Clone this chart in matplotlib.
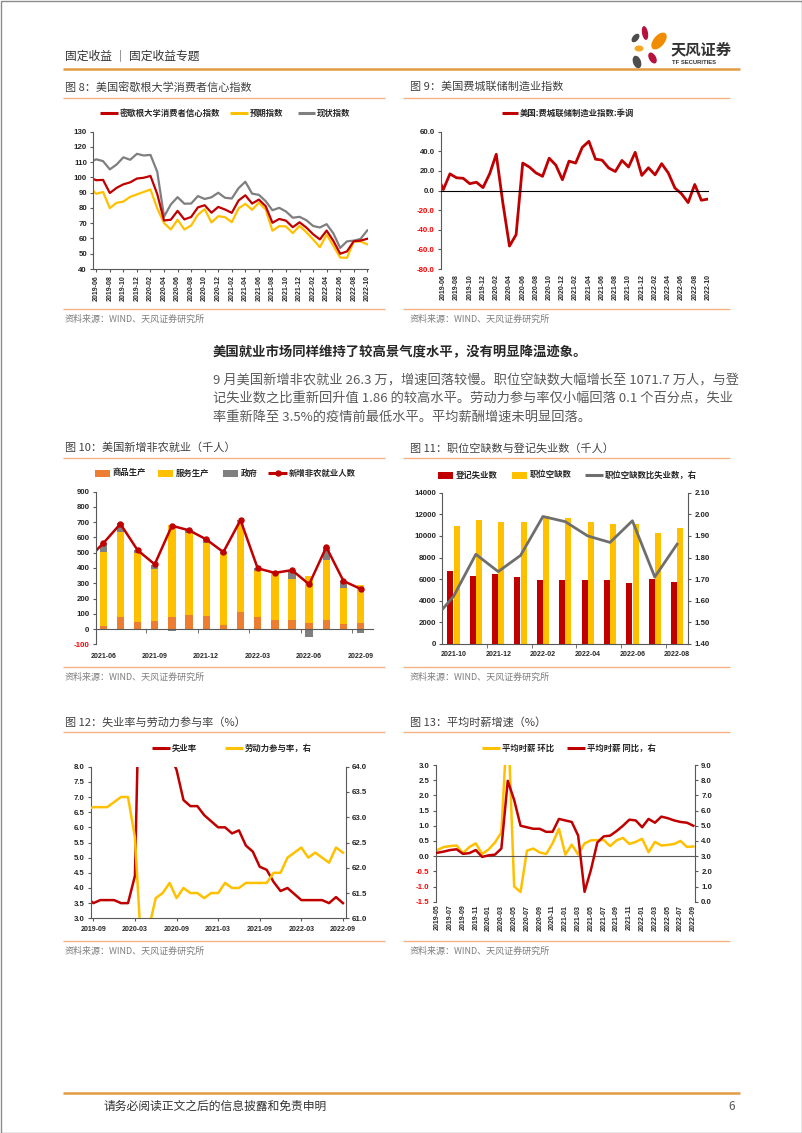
import numpy as np
import pandas as pd
import matplotlib
matplotlib.use('Agg')
import matplotlib.pyplot as plt
from matplotlib.patches import Ellipse, Rectangle

plt.rcParams['font.family'] = ['Noto Sans CJK SC', 'DejaVu Sans']
plt.rcParams['axes.unicode_minus'] = False

# ---------------- data ----------------
# Fig 8: Michigan consumer sentiment (2019-05 .. 2022-10)
m8_months = [str(p) for p in pd.period_range('2019-05', '2022-10', freq='M')]
sent8 = [100.0, 98.2, 98.4, 89.8, 93.2, 95.5, 96.8, 99.3,
         99.8, 101.0, 89.1, 71.8, 72.3, 78.1, 72.5, 74.1, 80.4, 81.8, 76.9, 80.7,
         79.0, 76.8, 84.9, 88.3, 82.9, 85.5, 81.2, 70.3, 72.8, 71.7, 67.4, 70.6,
         67.2, 62.8, 59.4, 65.2, 58.4, 50.0, 51.5, 58.2, 58.6, 59.8]
expect8 = [93.5, 89.3, 90.5, 79.9, 83.4, 84.2, 87.3, 88.9,
           90.5, 92.1, 79.7, 70.1, 65.9, 72.3, 65.9, 68.5, 75.6, 79.2, 70.5, 74.6,
           74.0, 70.7, 79.7, 82.7, 78.8, 83.5, 79.0, 65.1, 68.1, 67.9, 63.5, 68.3,
           64.1, 59.4, 54.3, 62.5, 55.2, 47.5, 47.3, 58.0, 58.0, 56.2]
curr8 = [110.0, 111.9, 110.7, 105.3, 108.5, 113.2, 111.6, 115.5,
         114.4, 114.8, 103.7, 74.3, 82.3, 87.1, 82.8, 82.9, 87.8, 85.9, 87.0, 90.0,
         86.7, 86.2, 93.0, 97.2, 89.4, 88.6, 84.5, 78.5, 80.1, 77.7, 73.6, 74.2,
         72.0, 68.2, 67.2, 69.4, 63.3, 53.8, 58.1, 58.6, 59.7, 65.3]

# Fig 9: Philadelphia Fed manufacturing index, SA (2019-05 .. 2022-10)
m9_months = [str(p) for p in pd.period_range('2019-05', '2022-10', freq='M')]
philly9 = [16.6, 1.0, 17.0, 13.0, 12.5, 7.0, 8.5, 3.0,
           17.0, 37.0, -12.7, -56.6, -45.0, 28.0, 24.0, 18.0, 14.5, 33.0, 26.0, 11.0,
           30.0, 28.0, 44.0, 50.2, 32.0, 31.0, 23.0, 19.4, 30.7, 24.0, 39.0, 15.4,
           23.2, 16.0, 27.4, 18.0, 2.6, -3.3, -12.3, 6.2, -9.9, -8.7]

# Fig 10: nonfarm payrolls (thousand)
m10_line_months = [str(p) for p in pd.period_range('2021-05', '2022-09', freq='M')]
nfp_total = [447, 562, 689, 517, 424, 677, 647, 588, 504, 714, 398, 368, 386, 293, 537, 315, 263]
m10_bar_months = m10_line_months[1:]
goods10 = [23, 80, 45, 51, 82, 95, 88, 28, 112, 82, 62, 58, 42, 60, 33, 42]
services10 = [485, 559, 452, 345, 598, 535, 476, 467, 588, 299, 303, 273, 304, 391, 237, 245]
gov10 = [54, 54, 22, 24, -15, 17, 26, 10, 14, 17, 3, 54, -53, 85, 42, -23]

# Fig 11: job openings vs unemployed (thousand)
m11_months = [str(p) for p in pd.period_range('2021-10', '2022-08', freq='M')]
unemployed11 = [6750, 6290, 6480, 6230, 5920, 5950, 5950, 5900, 5680, 6010, 5710]
openings11 = [10920, 11470, 11260, 11280, 11840, 11680, 11260, 11070, 11100, 10300, 10717]
ratio11_months = ['2021-09'] + m11_months
ratio11 = [1.50, 1.62, 1.815, 1.735, 1.81, 1.99, 1.966, 1.90, 1.87, 1.97, 1.71, 1.862]

# Fig 12: unemployment rate & participation rate (2019-08 .. 2022-09)
m12_months = [str(p) for p in pd.period_range('2019-08', '2022-09', freq='M')]
unemp12 = [3.7, 3.5, 3.6, 3.6, 3.6,
           3.5, 3.5, 4.4, 14.7, 13.2, 11.0, 10.2, 8.4, 7.9, 6.9, 6.7, 6.7,
           6.4, 6.2, 6.0, 6.0, 5.8, 5.9, 5.4, 5.2, 4.7, 4.6, 4.2, 3.9,
           4.0, 3.8, 3.6, 3.6, 3.6, 3.6, 3.5, 3.7, 3.5]
lfpr12 = [63.15, 63.2, 63.2, 63.2, 63.3,
          63.4, 63.4, 62.6, 60.2, 60.8, 61.4, 61.5, 61.7, 61.4, 61.6, 61.5, 61.5,
          61.4, 61.5, 61.5, 61.7, 61.6, 61.6, 61.7, 61.7, 61.7, 61.7, 61.9, 61.9,
          62.2, 62.3, 62.4, 62.2, 62.3, 62.2, 62.1, 62.4, 62.3]

# Fig 13: average hourly earnings (2019-05 .. 2022-09)
m13_months = [str(p) for p in pd.period_range('2019-05', '2022-09', freq='M')]
ahe_mom13 = [0.2, 0.3, 0.33, 0.35, 0.1, 0.3, 0.42, 0.07,
             0.22, 0.45, 0.78, 4.7, -1.0, -1.18, 0.18, 0.25, 0.12, 0.07, 0.42, 0.9,
             0.05, 0.38, 0.05, 0.42, 0.52, 0.53, 0.53, 0.33, 0.52, 0.6, 0.4, 0.47,
             0.57, 0.13, 0.47, 0.35, 0.37, 0.4, 0.5, 0.3, 0.32]
ahe_yoy13 = [3.22, 3.3, 3.4, 3.45, 3.15, 3.2, 3.4, 2.95,
             3.05, 3.1, 3.5, 7.96, 6.7, 5.0, 4.9, 4.8, 4.8, 4.6, 4.6, 5.45,
             5.35, 5.25, 4.35, 0.65, 2.1, 3.9, 4.3, 4.35, 4.65, 5.0, 5.4, 5.35,
             4.9, 5.45, 5.2, 5.6, 5.5, 5.35, 5.25, 5.2, 5.0]

# ---------------- style ----------------
RED = '#C00000'
YEL = '#FFC000'
GRY = '#7F7F7F'
ORG = '#ED7D31'
NEG = '#FF0000'
SP = '#595959'
SEP = '#F4B183'
TICKF = dict(fontfamily=['Liberation Sans', 'DejaVu Sans'], fontweight='bold', color='#262626')

W, H = 802, 1133
fig = plt.figure(figsize=(W / 100, H / 100), dpi=100)


def pax(x0, y0, x1, y1):
    return fig.add_axes([x0 / W, 1 - y1 / H, (x1 - x0) / W, (y1 - y0) / H])


def base(ax, right=False):
    ax.set_facecolor('none')
    ax.spines['top'].set_visible(False)
    ax.spines['right'].set_visible(right)
    ax.spines['left'].set_visible(not right)
    for s in ('left', 'bottom', 'right'):
        ax.spines[s].set_color(SP)
        ax.spines[s].set_linewidth(0.8)
    ax.tick_params(axis='both', color=SP, length=2.5, width=0.8, direction='out', pad=2)


def yt(ax, vals, fmt, size=5.7, neg_red=False):
    ax.set_yticks(vals, labels=[fmt.format(v) for v in vals], fontsize=size, **TICKF)
    if neg_red:
        for lab, v in zip(ax.get_yticklabels(), vals):
            if v < 0:
                lab.set_color(NEG)


# ---- Fig 8 ----
ax8 = pax(93.3, 131.7, 368.3, 269)
base(ax8)
x8 = np.arange(len(m8_months))
ax8.plot(x8, curr8, color=GRY, lw=1.6)
ax8.plot(x8, expect8, color=YEL, lw=1.6)
ax8.plot(x8, sent8, color=RED, lw=1.6)
ax8.set_xlim(0.56, 41.15)
ax8.set_ylim(40, 130)
yt(ax8, list(range(40, 131, 10)), '{:d}')
ax8.set_xticks(x8[1::2], labels=m8_months[1::2], rotation=90, fontsize=5, **TICKF)

# ---- Fig 9 ----
ax9 = pax(441, 131.7, 708.3, 269)
base(ax9)
x9 = np.arange(len(m9_months))
ax9.plot(x9, philly9, color=RED, lw=2)
ax9.set_xlim(0.65, 41.05)
ax9.set_ylim(-80, 60)
ax9.spines['bottom'].set_position(('data', 0))
ax9.spines['bottom'].set_color('#000000')
yt(ax9, list(range(-80, 61, 20)), '{:.1f}', neg_red=True)
ax9.set_xticks(x9[1::2], labels=m9_months[1::2], rotation=90, fontsize=5, **TICKF)
ax9.tick_params(axis='x', length=0, pad=60)

# ---- Fig 10 ----
ax10 = pax(95.7, 491.7, 373.3, 644.3)
base(ax10)
xb = np.arange(1, len(m10_bar_months) + 1)
g = np.array(goods10)
s = np.array(services10)
gv = np.array(gov10)
gov_bottom = np.where(gv >= 0, g + s, 0)
ax10.bar(xb, g, width=0.43, color=ORG)
ax10.bar(xb, s, bottom=g, width=0.43, color=YEL)
ax10.bar(xb, gv, bottom=gov_bottom, width=0.43, color=GRY)
xl = np.arange(len(m10_line_months))
ax10.plot(xl, nfp_total, color=RED, lw=1.8, marker='o', ms=3.6)
ax10.set_xlim(0.56, 16.74)
ax10.set_ylim(-100, 900)
ax10.spines['bottom'].set_position(('data', 0))
yt(ax10, list(range(-100, 901, 100)), '{:d}', neg_red=True)
lab_idx10 = [0, 3, 6, 9, 12, 15]
ax10.set_xticks(xb[lab_idx10], labels=[m10_bar_months[i] for i in lab_idx10], fontsize=5, **TICKF)
ax10.set_xticks([3.5, 6.5, 9.5, 12.5, 15.5], minor=True)
ax10.tick_params(axis='x', which='major', length=0, pad=17)
ax10.tick_params(axis='x', which='minor', length=3, color=SP)

# ---- Fig 11 ----
ax11 = pax(442.3, 492.7, 688.3, 644)
base(ax11)
xc = np.arange(len(m11_months))
ax11.bar(xc - 0.14, unemployed11, width=0.27, color=RED)
ax11.bar(xc + 0.14, openings11, width=0.27, color=YEL)
ax11.set_xlim(-0.5, 10.5)
ax11.set_ylim(0, 14000)
yt(ax11, list(range(0, 14001, 2000)), '{:d}')
ax11.set_xticks(xc[::2], labels=m11_months[::2], fontsize=5, **TICKF)
ax11.set_xticks([1.5, 3.5, 5.5, 7.5, 9.5], minor=True)
ax11.tick_params(axis='x', which='major', length=0, pad=5)
ax11.tick_params(axis='x', which='minor', length=3, color=SP)
ax11r = ax11.twinx()
base(ax11r, right=True)
ax11r.spines['bottom'].set_visible(False)
ax11r.plot(np.arange(-1, len(m11_months)), ratio11, color='#6E6E6E', lw=2)
ax11r.set_ylim(1.4, 2.1)
yt(ax11r, [1.4, 1.5, 1.6, 1.7, 1.8, 1.9, 2.0, 2.1], '{:.2f}')
ax11r.set_xlim(-0.5, 10.5)

# ---- Fig 12 ----
ax12 = pax(90.7, 766.7, 345.7, 918.3)
base(ax12)
x12 = np.arange(len(m12_months))
ax12.plot(x12, unemp12, color=RED, lw=1.8)
ax12.set_ylim(3, 8)
ax12.set_xlim(0.62, 37.4)
yt(ax12, [3.0, 3.5, 4.0, 4.5, 5.0, 5.5, 6.0, 6.5, 7.0, 7.5, 8.0], '{:.1f}')
lab_idx12 = [1, 7, 13, 19, 25, 31, 37]
ax12.set_xticks(lab_idx12, labels=[m12_months[i] for i in lab_idx12], fontsize=5, **TICKF)
ax12.tick_params(axis='x', pad=3)
ax12r = ax12.twinx()
base(ax12r, right=True)
ax12r.spines['bottom'].set_visible(False)
ax12r.plot(x12, lfpr12, color=YEL, lw=1.8)
ax12r.set_ylim(61, 64)
yt(ax12r, [61.0, 61.5, 62.0, 62.5, 63.0, 63.5, 64.0], '{:.1f}')
ax12r.set_xlim(0.62, 37.4)

# ---- Fig 13 ----
ax13 = pax(435.7, 765, 695, 901.7)
base(ax13)
x13 = np.arange(len(m13_months))
ax13.plot(x13, ahe_mom13, color=YEL, lw=1.8)
ax13.set_ylim(-1.5, 3.0)
ax13.set_xlim(-0.26, 40.26)
ax13.spines['bottom'].set_position(('data', 0))
yt(ax13, [-1.5, -1.0, -0.5, 0.0, 0.5, 1.0, 1.5, 2.0, 2.5, 3.0], '{:.1f}', neg_red=True)
ax13.set_xticks(x13[::2], labels=m13_months[::2], rotation=90, fontsize=5, **TICKF)
ax13.tick_params(axis='x', length=0, pad=35)
ax13r = ax13.twinx()
base(ax13r, right=True)
ax13r.spines['bottom'].set_visible(False)
ax13r.plot(x13, ahe_yoy13, color=RED, lw=1.8)
ax13r.set_ylim(0, 9)
yt(ax13r, [0.0, 1.0, 2.0, 3.0, 4.0, 5.0, 6.0, 7.0, 8.0, 9.0], '{:.1f}')
ax13r.set_xlim(-0.26, 40.26)

# ---------------- page overlay (pixel coordinates) ----------------
ov = fig.add_axes([0, 0, 1, 1], zorder=20)
ov.set_xlim(0, W)
ov.set_ylim(H, 0)
ov.axis('off')
ov.set_facecolor('none')


def hline(x0, x1, y, color, lw):
    ov.plot([x0, x1], [y, y], color=color, lw=lw, solid_capstyle='butt')


def txt(x, y, s, size, color, weight='normal', ha='left', family=None):
    kw = {}
    if family is not None:
        kw['fontfamily'] = family
    ov.text(x, y, s, fontsize=size, color=color, fontweight=weight, ha=ha, va='center', **kw)


def leg_line(x0, x1, y, color, label, marker=None):
    ov.plot([x0, x1], [y, y], color=color, lw=2.2, solid_capstyle='butt')
    if marker:
        ov.plot([(x0 + x1) / 2], [y], marker=marker, color=color, ms=3.6)
    txt(x1 + 2, y, label, 6, '#262626', 'bold')


def leg_box(x0, y, color, label):
    ov.add_patch(Rectangle((x0, y - 3.5), 15, 7, color=color, lw=0))
    txt(x0 + 18, y, label, 6, '#262626', 'bold')


# page border
ov.add_patch(Rectangle((0.5, 0.5), W - 1, H - 1, fill=False, edgecolor='#8C8C8C', lw=1))

# header
txt(65, 57, '固定收益 ｜ 固定收益专题', 8.5, '#333333')
hline(63, 740, 68.5, '#E39B44', 1.8)
ov.add_patch(Ellipse((645, 33), 6, 14, angle=-10, color='#B5123E', lw=0))
ov.add_patch(Ellipse((635.5, 38), 6, 10, angle=40, color='#4D4D4D', lw=0))
ov.add_patch(Ellipse((659, 41), 11, 20, angle=40, color='#F08C00', lw=0))
ov.add_patch(Ellipse((639, 48.5), 9, 6, angle=0, color='#F5A623', lw=0))
ov.add_patch(Ellipse((637, 62), 8, 13, angle=-20, color='#4D4D4D', lw=0))
ov.add_patch(Ellipse((652.5, 58), 7, 12, angle=-30, color='#B5123E', lw=0))
txt(671, 49, '天风证券', 11, '#333333', 'bold')
txt(672, 63, 'TF SECURITIES', 4.2, '#333333', 'bold', family=['Liberation Sans', 'DejaVu Sans'])

# footer
hline(63, 740, 1093, '#E39B44', 1.8)
txt(103, 1106, '请务必阅读正文之后的信息披露和免责申明', 8.5, '#333333')
txt(735, 1106, '6', 8.5, '#555555', ha='right')

# chart frames: titles, separators, sources
TC = '#404040'
SC = '#7F7F7F'
frames = [
    (65, 63, 385, 87, 98, 309, 319, '图 8：美国密歇根大学消费者信心指数'),
    (410, 403, 730, 87, 98, 309, 319, '图 9：美国费城联储制造业指数'),
    (65, 63, 385, 448, 458, 667, 677, '图 10：美国新增非农就业（千人）'),
    (410, 403, 730, 448, 458, 667, 677, '图 11：职位空缺数与登记失业数（千人）'),
    (65, 63, 385, 722, 732, 941, 951, '图 12：失业率与劳动力参与率（%）'),
    (410, 403, 730, 722, 732, 941, 951, '图 13：平均时薪增速（%）'),
]
for tx, sx0, sx1, ty, s1, s2, sy, title in frames:
    txt(tx, ty, title, 8, TC)
    hline(sx0, sx1, s1, SEP, 1.0)
    hline(sx0, sx1, s2, SEP, 1.0)
    txt(tx, sy, '资料来源：WIND、天风证券研究所', 6.5, SC)

# legends
leg_line(100, 118, 113, RED, '密歇根大学消费者信心指数')
leg_line(230, 248, 113, YEL, '预期指数')
leg_line(298, 315, 113, GRY, '现状指数')
leg_line(502, 518, 113, RED, '美国:费城联储制造业指数:季调')
leg_box(95, 473, ORG, '商品生产')
leg_box(158, 473, YEL, '服务生产')
leg_box(223, 473, GRY, '政府')
leg_line(268, 287, 473, RED, '新增非农就业人数', marker='o')
leg_box(438, 475, RED, '登记失业数')
leg_box(512, 475, YEL, '职位空缺数')
leg_line(585, 603, 475, '#6E6E6E', '职位空缺数比失业数，右')
leg_line(152, 170, 748, RED, '失业率')
leg_line(225, 243, 748, YEL, '劳动力参与率，右')
leg_line(482, 500, 748, YEL, '平均时薪 环比')
leg_line(567, 585, 748, RED, '平均时薪 同比，右')

# body text
txt(213, 352, '美国就业市场同样维持了较高景气度水平，没有明显降温迹象。', 9.6, '#262626', 'bold')
para = [
    '9 月美国新增非农就业 26.3 万，增速回落较慢。职位空缺数大幅增长至 1071.7 万人，与登',
    '记失业数之比重新回升值 1.86 的较高水平。劳动力参与率仅小幅回落 0.1 个百分点，失业',
    '率重新降至 3.5%的疫情前最低水平。平均薪酬增速未明显回落。',
]
for i, line in enumerate(para):
    txt(213, 381 + 18 * i, line, 9.5, '#595959')

fig.savefig('out.png', dpi=100)
